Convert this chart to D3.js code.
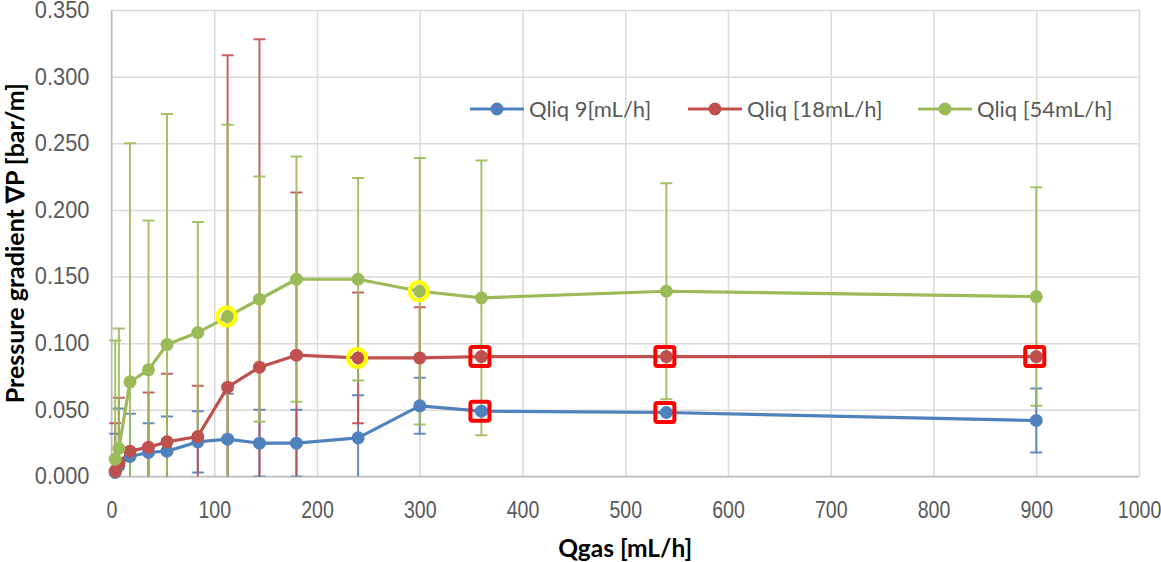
<!DOCTYPE html>
<html>
<head>
<meta charset="utf-8">
<script src="https://cdn.jsdelivr.net/npm/d3@7"></script>
<style>
  html, body { margin: 0; padding: 0; background: #fff; }
  svg { display: block; font-family: Lato, "Open Sans", sans-serif; }
  .ytick { transform-box: fill-box; transform-origin: right center; transform: scaleX(0.95); }
  .xtick { transform-box: fill-box; transform-origin: center; transform: scaleX(0.85); }
</style>
</head>
<body>
<div id="app"></div>
<script>
// gas flow rate (x) shared by all series
const qgas = [3.6, 7.2, 18, 36, 54, 84, 113, 144, 180, 240, 300, 360, 540, 900];

// pressure gradient [bar/m] per liquid flow rate
const q9 = [0.003, 0.008, 0.015, 0.018, 0.019, 0.026, 0.028, 0.025, 0.025, 0.029, 0.053, 0.049, 0.048, 0.042];
const q18 = [0.004, 0.010, 0.019, 0.022, 0.026, 0.030, 0.067, 0.082, 0.091, 0.089, 0.089, 0.090, 0.090, 0.090];
const q54 = [0.013, 0.021, 0.071, 0.080, 0.099, 0.108, 0.120, 0.133, 0.148, 0.148, 0.139, 0.134, 0.139, 0.135];

// error bar half widths (symmetric)
const q9Err = [0.029, 0.043, 0.032, 0.022, 0.026, 0.023, 0.034, 0.025, 0.025, 0.032, 0.021, 0, 0, 0.024];
const q18Err = [0.036, 0.049, 0, 0.041, 0.051, 0.038, 0.249, 0.246, 0.122, 0.049, 0.038, 0, 0, 0];
const q54Err = [0.089, 0.090, 0.179, 0.112, 0.173, 0.083, 0.144, 0.092, 0.092, 0.076, 0.100, 0.103, 0.081, 0.082];

const seriesNames = ['Qliq 9[mL/h]', 'Qliq [18mL/h]', 'Qliq [54mL/h]'];
const seriesColors = ['#4F81BD', '#C0504D', '#9BBB59'];

const xTicks = [0, 100, 200, 300, 400, 500, 600, 700, 800, 900, 1000];
const yTicks = [0, 0.05, 0.1, 0.15, 0.2, 0.25, 0.3, 0.35];

// highlighted points: [series index, point index]
const yellowRings = [[2, 6], [1, 9], [2, 10]];
const redSquares = [[1, 11], [0, 11], [1, 12], [0, 12], [1, 13]];

const W = 1161, H = 562;
const margin = { top: 10, right: 22, bottom: 85.5, left: 111.5 };
const width = W - margin.left - margin.right,
	height = H - margin.top - margin.bottom;

const series = [q9, q18, q54].map((vals, s) => ({
	name: seriesNames[s],
	color: seriesColors[s],
	points: vals.map((v, i) => ({ q: qgas[i], v, e: [q9Err, q18Err, q54Err][s][i] }))
}));

const svg = d3.select('#app').append('svg')
	.attr('width', W)
	.attr('height', H);

const x = d3.scaleLinear().domain([0, 1000]).range([0, width]);
const y = d3.scaleLinear().domain([0, 0.35]).range([height, 0]);

const g = svg.append('g')
	.attr('transform', `translate(${margin.left},${margin.top})`);

g.append('clipPath').attr('id', 'plotclip')
	.append('rect').attr('x', -8).attr('y', -2).attr('width', width + 16).attr('height', height + 2);

// gridlines + axes
const yAxis = g.append('g')
	.call(d3.axisLeft(y).tickValues(yTicks).tickSize(-width).tickFormat(d3.format('.3f')).tickPadding(22));
yAxis.select('.domain').remove();
yAxis.selectAll('line').attr('stroke', '#D9D9D9').attr('stroke-width', 1.5);
yAxis.selectAll('text').attr('class', 'ytick');

const xAxis = g.append('g')
	.attr('transform', `translate(0,${height})`)
	.call(d3.axisBottom(x).tickValues(xTicks).tickSize(-height).tickFormat(d3.format('d')).tickPadding(25));
xAxis.select('.domain').remove();
xAxis.selectAll('line').attr('stroke', '#D9D9D9').attr('stroke-width', 1.5);
xAxis.selectAll('text').attr('class', 'xtick');

g.selectAll('.tick text')
	.attr('fill', '#595959')
	.attr('font-size', 23);

// axis lines
g.append('line').attr('x1', 0).attr('x2', width).attr('y1', height).attr('y2', height)
	.attr('stroke', '#BFBFBF').attr('stroke-width', 1.5);
g.append('line').attr('x1', 0).attr('x2', 0).attr('y1', 0).attr('y2', height)
	.attr('stroke', '#BFBFBF').attr('stroke-width', 1.5);

// error bars
const plot = g.append('g').attr('clip-path', 'url(#plotclip)');
series.forEach(s => {
	const eb = plot.append('g')
		.attr('stroke', s.color)
		.attr('stroke-width', 2)
		.attr('stroke-opacity', 0.9);
	const withErr = s.points.filter(d => d.e > 0);
	eb.selectAll('.bar').data(withErr).enter().append('line')
		.attr('x1', d => x(d.q)).attr('x2', d => x(d.q))
		.attr('y1', d => y(d.v + d.e)).attr('y2', d => y(d.v - d.e));
	eb.selectAll('.capHi').data(withErr).enter().append('line')
		.attr('x1', d => x(d.q) - 6).attr('x2', d => x(d.q) + 6)
		.attr('y1', d => y(d.v + d.e)).attr('y2', d => y(d.v + d.e));
	eb.selectAll('.capLo').data(withErr.filter(d => d.v - d.e >= 0)).enter().append('line')
		.attr('x1', d => x(d.q) - 6).attr('x2', d => x(d.q) + 6)
		.attr('y1', d => y(d.v - d.e)).attr('y2', d => y(d.v - d.e));
});

// lines
const line = d3.line().x(d => x(d.q)).y(d => y(d.v));
series.forEach(s => {
	g.append('path')
		.datum(s.points)
		.attr('fill', 'none')
		.attr('stroke', s.color)
		.attr('stroke-width', 3.2)
		.attr('stroke-linejoin', 'round')
		.attr('d', line);
});

// markers
series.forEach(s => {
	g.append('g').selectAll('circle')
		.data(s.points)
		.enter().append('circle')
			.attr('cx', d => x(d.q))
			.attr('cy', d => y(d.v))
			.attr('r', 6.5)
			.attr('fill', s.color);
});

// highlights
g.append('g').selectAll('circle')
	.data(yellowRings)
	.enter().append('circle')
		.attr('cx', d => x(series[d[0]].points[d[1]].q) - 1)
		.attr('cy', d => y(series[d[0]].points[d[1]].v))
		.attr('r', 9)
		.attr('fill', 'none')
		.attr('stroke', '#FFFF00')
		.attr('stroke-width', 4);

g.append('g').selectAll('rect')
	.data(redSquares)
	.enter().append('rect')
		.attr('x', d => x(series[d[0]].points[d[1]].q) - 11)
		.attr('y', d => y(series[d[0]].points[d[1]].v) - 9.5)
		.attr('width', 19)
		.attr('height', 19)
		.attr('rx', 2)
		.attr('fill', 'none')
		.attr('stroke', '#FF0000')
		.attr('stroke-width', 4);

// legend
const legendX = [470, 688, 918];
const legend = svg.append('g').attr('transform', 'translate(0,109)');
series.forEach((s, i) => {
	const lg = legend.append('g').attr('transform', `translate(${legendX[i]},0)`);
	lg.append('line').attr('x1', 0).attr('x2', 54).attr('stroke', s.color).attr('stroke-width', 3.2);
	lg.append('circle').attr('cx', 27).attr('r', 6.5).attr('fill', s.color);
	lg.append('text')
		.attr('x', 59)
		.attr('dy', '0.35em')
		.attr('fill', '#595959')
		.attr('font-size', 22)
		.text(s.name);
});

// axis titles
svg.append('text')
	.attr('x', margin.left + x(500))
	.attr('y', 548)
	.attr('dy', '0.35em')
	.attr('text-anchor', 'middle')
	.attr('font-weight', 'bold')
	.attr('font-size', 24.5)
	.attr('fill', '#000')
	.text('Qgas [mL/h]');

svg.append('g')
	.attr('transform', `translate(15,${margin.top + height / 2}) rotate(-90)`)
	.append('text')
		.attr('dy', '0.35em')
		.attr('text-anchor', 'middle')
		.attr('font-weight', 'bold')
		.attr('font-size', 25)
		.attr('fill', '#000')
		.text('Pressure gradient ∇P [bar/m]');
</script>
</body>
</html>
